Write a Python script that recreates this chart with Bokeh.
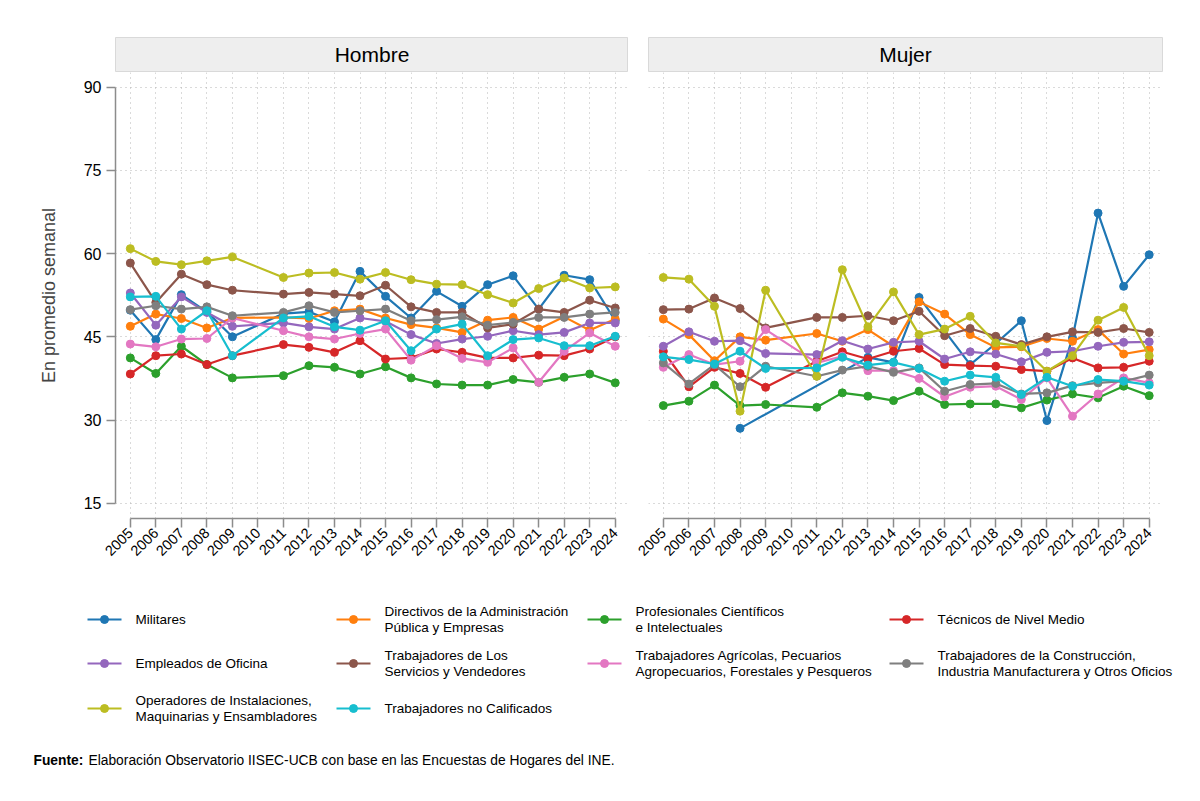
from bokeh.plotting import figure
from bokeh.models import Range1d, FixedTicker, Grid, ColumnDataSource
from bokeh.layouts import column, row
from bokeh.embed import file_html
from bokeh.resources import INLINE
from bokeh.core.properties import value

FONT = "Liberation Sans"

years = [2005, 2006, 2007, 2008, 2009, 2010, 2011, 2012, 2013, 2014,
         2015, 2016, 2017, 2018, 2019, 2020, 2021, 2022, 2023, 2024]
y_ticks = [15, 30, 45, 60, 75, 90]
panels = ["Hombre", "Mujer"]

categories = [
    "Militares",
    "Directivos de la Administración\nPública y Empresas",
    "Profesionales Científicos\ne Intelectuales",
    "Técnicos de Nivel Medio",
    "Empleados de Oficina",
    "Trabajadores de Los\nServicios y Vendedores",
    "Trabajadores Agrícolas, Pecuarios\nAgropecuarios, Forestales y Pesqueros",
    "Trabajadores de la Construcción,\nIndustria Manufacturera y Otros Oficios",
    "Operadores de Instalaciones,\nMaquinarias y Ensambladores",
    "Trabajadores no Calificados",
]
colors = ["#1f77b4", "#ff7f0e", "#2ca02c", "#d62728", "#9467bd",
          "#8c564b", "#e377c2", "#7f7f7f", "#bcbd22", "#17becf"]

hombre_militares = [49.8, 44.5, 52.6, 49.5, 45.0, None, 49.2, 49.5, 47.7, 56.8, 52.3, 48.4, 53.2, 50.5, 54.4, 56.0, 50.0, 56.1, 55.3, 47.9]
hombre_directivos = [46.9, 49.1, 48.3, 46.6, 48.4, None, 48.5, 48.3, 49.7, 50.0, 48.4, 47.2, 46.6, 45.8, 48.0, 48.5, 46.4, 48.6, 46.2, 48.2]
hombre_profesionales = [41.2, 38.4, 43.3, 40.0, 37.6, None, 38.0, 39.8, 39.5, 38.3, 39.6, 37.6, 36.5, 36.3, 36.3, 37.3, 36.8, 37.7, 38.3, 36.7]
hombre_tecnicos = [38.3, 41.6, 41.9, 40.0, 41.6, None, 43.6, 43.1, 42.2, 44.3, 41.0, 41.2, 42.8, 42.2, 41.2, 41.2, 41.7, 41.6, 42.8, 45.0]
hombre_empleados = [52.9, 47.1, 52.2, 49.4, 46.9, None, 47.5, 46.8, 46.4, 48.4, 47.8, 45.4, 43.8, 44.6, 45.1, 46.1, 45.4, 45.8, 47.5, 47.5]
hombre_servicios = [58.3, 51.2, 56.3, 54.4, 53.4, None, 52.7, 53.0, 52.7, 52.4, 54.3, 50.4, 49.4, 49.4, 46.6, 47.3, 50.0, 49.4, 51.6, 50.2]
hombre_agricolas = [43.7, 43.2, 44.6, 44.7, 48.4, None, 46.1, 45.0, 44.6, 45.6, 46.4, 40.8, 43.4, 41.1, 40.4, 43.0, 36.8, 42.4, 45.7, 43.3]
hombre_construccion = [49.9, 50.6, 50.0, 50.4, 48.8, None, 49.4, 50.6, 49.4, 49.7, 50.0, 47.9, 48.1, 48.6, 47.1, 47.6, 48.5, 48.5, 49.1, 49.4]
hombre_operadores = [60.9, 58.6, 58.0, 58.7, 59.4, None, 55.7, 56.5, 56.6, 55.4, 56.6, 55.3, 54.5, 54.4, 52.6, 51.1, 53.7, 55.6, 53.8, 54.0]
hombre_no_calificados = [52.2, 52.3, 46.4, 49.7, 41.6, None, 48.4, 48.7, 46.8, 46.2, 47.9, 42.5, 46.4, 47.3, 41.6, 44.5, 44.8, 43.4, 43.4, 45.1]

mujer_militares = [None, None, None, 28.5, None, None, None, None, 41.3, 40.4, 52.1, None, 40.0, 43.8, 47.9, 29.9, 44.8, 67.3, 54.1, 59.8]
mujer_directivos = [48.2, 45.4, 40.7, 45.0, 44.4, None, 45.6, 44.2, 46.3, 43.3, 51.3, 49.1, 45.4, 43.1, 43.2, 44.7, 44.2, 46.3, 41.9, 42.7]
mujer_profesionales = [32.6, 33.4, 36.3, 32.6, 32.8, None, 32.3, 34.9, 34.3, 33.5, 35.2, 32.8, 32.9, 32.9, 32.2, 33.6, 34.7, 34.0, 36.1, 34.4]
mujer_tecnicos = [42.4, 36.0, 39.5, 38.4, 35.9, None, 40.6, 42.3, 41.0, 42.4, 42.9, 40.0, 39.8, 39.7, 39.1, 38.8, 41.2, 39.4, 39.5, 40.6]
mujer_empleados = [43.3, 45.9, 44.2, 44.3, 42.0, None, 41.8, 44.3, 42.8, 44.0, 44.2, 41.0, 42.3, 41.9, 40.5, 42.2, 42.4, 43.3, 44.0, 44.1]
mujer_servicios = [49.9, 50.0, 52.0, 50.1, 46.6, None, 48.5, 48.5, 48.8, 47.9, 49.6, 45.2, 46.5, 45.1, 43.6, 45.0, 45.9, 45.8, 46.5, 45.8]
mujer_agricolas = [39.5, 41.8, 40.0, 40.6, 46.3, None, 40.3, 41.5, 38.9, 38.9, 37.5, 34.2, 35.9, 36.1, 33.7, 37.6, 30.7, 34.7, 37.6, 36.7]
mujer_construccion = [40.3, 36.5, 40.0, 36.0, 39.7, None, 37.9, 39.0, 39.7, 38.6, 39.4, 35.2, 36.4, 36.6, 34.7, 34.9, 36.2, 36.7, 37.0, 38.1]
mujer_operadores = [55.7, 55.4, 50.5, 31.6, 53.4, None, 37.9, 57.1, 46.8, 53.1, 45.4, 46.4, 48.7, 43.9, 43.3, 38.8, 41.6, 48.0, 50.3, 41.6]
mujer_no_calificados = [41.4, 40.9, 40.1, 42.4, 39.3, None, 39.4, 41.3, 39.9, 40.4, 39.3, 37.0, 38.1, 37.7, 34.6, 37.7, 36.1, 37.3, 37.0, 36.3]

series = {
    "Hombre": [hombre_militares, hombre_directivos, hombre_profesionales, hombre_tecnicos,
               hombre_empleados, hombre_servicios, hombre_agricolas, hombre_construccion,
               hombre_operadores, hombre_no_calificados],
    "Mujer": [mujer_militares, mujer_directivos, mujer_profesionales, mujer_tecnicos,
              mujer_empleados, mujer_servicios, mujer_agricolas, mujer_construccion,
              mujer_operadores, mujer_no_calificados],
}

# ---------------- layout constants (pixels) ----------------
LEFT_W, RIGHT_W = 628, 572
HEAD_H = 72
MAIN_H = 518
LEG_H = 801 - HEAD_H - MAIN_H
X_RANGE = (2004.42, 2024.52)
Y_RANGE = (12.25, 92.65)
GRID_COLOR = "#b4b4b4"
AXIS_COLOR = "#8c8c8c"


def header(title, w, bl, br):
    h = figure(width=w, height=HEAD_H, output_backend="svg", toolbar_location=None,
               x_axis_location=None, y_axis_location=None,
               x_range=Range1d(0, 1), y_range=Range1d(0, 1),
               min_border_left=bl, min_border_right=br,
               min_border_top=37, min_border_bottom=1)
    h.background_fill_color = "#eeeeee"
    h.outline_line_color = "#d9d9d9"
    h.outline_line_width = 1
    h.grid.visible = False
    h.text(x=[0.5], y=[0.5], text=[title], text_align="center", text_baseline="middle",
           text_font=value(FONT), text_font_size="21px", text_color="black")
    return h


def panel(name, w, bl, br, show_y):
    p = figure(width=w, height=MAIN_H, output_backend="svg", toolbar_location=None,
               x_range=Range1d(*X_RANGE), y_range=Range1d(*Y_RANGE),
               y_axis_location="left" if show_y else None,
               min_border_left=bl, min_border_right=br,
               min_border_top=0, min_border_bottom=MAIN_H - 446)
    p.outline_line_color = None
    p.grid.visible = False
    for dim, ticks in ((0, years), (1, y_ticks)):
        p.add_layout(Grid(dimension=dim, ticker=FixedTicker(ticks=ticks),
                          grid_line_color=GRID_COLOR, grid_line_dash="1 4",
                          grid_line_width=1))
    xa = p.xaxis[0]
    xa.ticker = FixedTicker(ticks=years)
    xa.bounds = (years[0], years[-1])
    xa.major_label_orientation = 0.785398
    xa.major_label_text_font = FONT
    xa.major_label_text_font_size = "14.5px"
    xa.major_label_text_color = "black"
    xa.axis_line_color = AXIS_COLOR
    xa.major_tick_line_color = AXIS_COLOR
    xa.axis_line_width = 1.5
    xa.major_tick_line_width = 1.5
    xa.major_tick_in = 0
    xa.major_tick_out = 9
    xa.minor_tick_line_color = None
    xa.major_label_standoff = 3
    if show_y:
        ya = p.yaxis[0]
        ya.ticker = FixedTicker(ticks=y_ticks)
        ya.bounds = (y_ticks[0], y_ticks[-1])
        ya.axis_label = "En promedio semanal"
        ya.axis_label_text_font = FONT
        ya.axis_label_text_font_size = "18px"
        ya.axis_label_text_font_style = "normal"
        ya.axis_label_standoff = 22
        ya.major_label_text_font = FONT
        ya.major_label_text_font_size = "16px"
        ya.major_label_text_color = "black"
        ya.axis_line_color = AXIS_COLOR
        ya.major_tick_line_color = AXIS_COLOR
        ya.axis_line_width = 1.5
        ya.major_tick_line_width = 1.5
        ya.major_tick_in = 0
        ya.major_tick_out = 9
        ya.minor_tick_line_color = None
        ya.major_label_standoff = 5
        ya.major_label_orientation = "horizontal"
    for vals, col in zip(series[name], colors):
        xs = [yr for yr, v in zip(years, vals) if v is not None]
        ys = [v for v in vals if v is not None]
        src = ColumnDataSource(dict(x=xs, y=ys))
        p.line("x", "y", source=src, line_color=col, line_width=2.2)
        p.scatter("x", "y", source=src, size=8, fill_color=col, line_color=col)
    return p


h1 = header(panels[0], LEFT_W, 115, LEFT_W - 628)
h2 = header(panels[1], RIGHT_W, 648 - LEFT_W, 1200 - 1162)
p1 = panel(panels[0], LEFT_W, 115, LEFT_W - 628, True)
p2 = panel(panels[1], RIGHT_W, 648 - LEFT_W, 1200 - 1162, False)

# ---------------- legend + source note ----------------
top = HEAD_H + MAIN_H
leg = figure(width=1200, height=LEG_H, output_backend="svg", toolbar_location=None,
             x_axis_location=None, y_axis_location=None,
             x_range=Range1d(0, 1200), y_range=Range1d(801, top),
             min_border=0)
leg.outline_line_color = None
leg.grid.visible = False
col_x = [87, 336, 587, 889]
row_y = [619, 663, 708]
for i, (cat, col) in enumerate(zip(categories, colors)):
    cx = col_x[i % 4]
    ry = row_y[i // 4]
    leg.line([cx, cx + 34], [ry, ry], line_color=col, line_width=2.2)
    leg.scatter([cx + 17], [ry], size=8, fill_color=col, line_color=col)
    leg.text([cx + 48], [ry], text=[cat], text_font=value(FONT), text_font_size="13.5px",
             text_baseline="middle", text_align="left", text_color="black",
             text_line_height=1.1)
leg.text([33], [760], text=["Fuente:"], text_font=value(FONT), text_font_size="13.8px",
         text_font_style="bold", text_baseline="middle", text_color="black")
leg.text([88], [760], text=["Elaboración Observatorio IISEC-UCB con base en las Encuestas de Hogares del INE."],
         text_font=value(FONT), text_font_size="13.8px", text_baseline="middle", text_color="black")

layout = column(row(h1, h2), row(p1, p2), leg)
open("out.html", "w").write(file_html(layout, INLINE))
